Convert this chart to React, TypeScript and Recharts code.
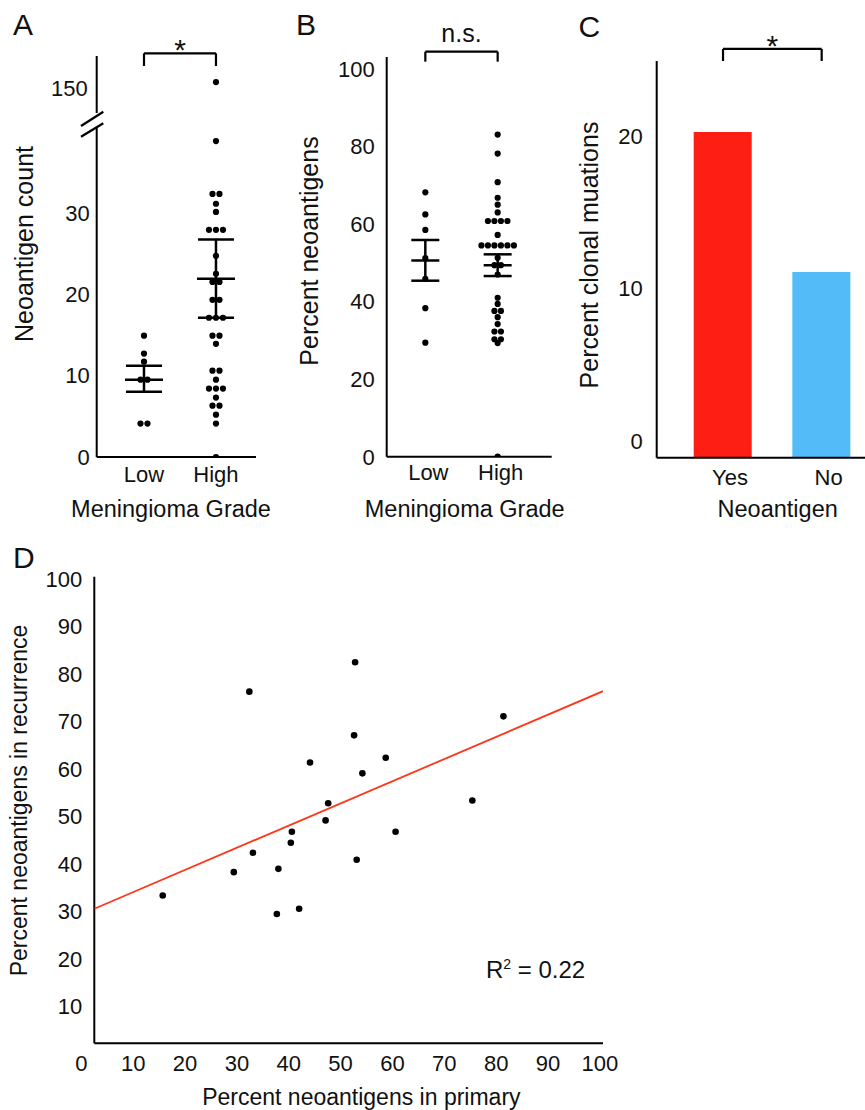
import React from 'react';
import {
  ScatterChart,
  Scatter,
  XAxis,
  YAxis,
  ErrorBar,
  ReferenceLine,
  BarChart,
  Bar,
  Cell,
} from 'recharts';

// ---------------- data ----------------
const gradeCategories = ['Low', 'High'];

// Panel A: neoantigen count per tumour
const neoantigenCountLow = [14.9, 12.7, 11.7, 9.5, 9.5, 4.1, 4.1];
const neoantigenCountHigh = [
  0, 4.1, 5.2, 6.3, 6.3, 7.3, 8.4, 8.4, 8.4, 9.5, 10.6, 10.6, 13.9, 14.9, 14.9,
  17.1, 17.1, 17.1, 19.3, 19.3, 21.5, 21.5, 22.5, 24.7, 27.9, 27.9, 27.9, 30.1,
  31.1, 32.3, 32.3, 38.8, 150.8,
];
const neoantigenCountMean = [9.5, 21.9];
const neoantigenCountSemLower = [8.0, 17.1];
const neoantigenCountSemUpper = [11.2, 26.7];
const countTicksLower = [0, 10, 20, 30];
const countTicksUpper = [150];
const countSignificance = '*';

// Panel B: percent neoantigens
const pctNeoLow = [68.2, 62.5, 58.5, 51.2, 45.9, 38.3, 29.4];
const pctNeoHigh = [
  83.1, 78.2, 70.8, 66.8, 65.0, 63.0, 60.8, 60.8, 60.8, 60.8, 57.2, 54.5, 54.5,
  54.5, 54.5, 54.5, 54.5, 51.3, 49.4, 49.4, 47.0, 41.0, 39.4, 37.6, 37.6, 36.0,
  34.2, 32.3, 32.3, 30.3, 30.3, 29.3, 0,
];
const pctNeoMean = [50.6, 49.4];
const pctNeoSemLower = [45.4, 46.6];
const pctNeoSemUpper = [55.9, 52.2];
const pctTicks = [0, 20, 40, 60, 80, 100];
const pctSignificance = 'n.s.';

// Panel C: percent clonal mutations
const neoantigenCategories = ['Yes', 'No'];
const clonalPct = [20.25, 11.07];
const clonalColors = ['#fe1f14', '#53bbf7'];
const clonalTicks = [0, 10, 20];
const clonalSignificance = '*';

// Panel D: primary vs recurrence
const primaryPct = [
  15.7, 29.4, 33.1, 32.4, 38.0, 37.7, 40.4, 40.6, 42.0, 44.1, 47.1, 47.6, 52.6,
  52.8, 53.1, 54.2, 58.7, 60.6, 75.4, 81.4,
];
const recurrencePct = [
  33.4, 38.3, 42.4, 76.3, 39.0, 29.5, 44.5, 46.8, 30.6, 61.4, 49.2, 52.8, 67.1,
  82.5, 40.9, 59.1, 62.4, 46.8, 53.4, 71.1,
];
const fitX = [2.5, 100.6];
const fitY = [30.6, 76.4];
const rSquared = '0.22';
const dXTicks = [0, 10, 20, 30, 40, 50, 60, 70, 80, 90, 100];
const dYTicks = [10, 20, 30, 40, 50, 60, 70, 80, 90, 100];

// ---------------- helpers ----------------
const INK = '#111';
const AXIS = { stroke: '#000', strokeWidth: 2 };
const TICK = { fill: INK, fontSize: 22 };

// symmetric rows for equal values (beeswarm-like layout)
function swarm(values: number[], group: number) {
  const counts = new Map<number, number>();
  values.forEach((v) => counts.set(v, (counts.get(v) || 0) + 1));
  const seen = new Map<number, number>();
  return values.map((v) => {
    const n = counts.get(v) || 1;
    const i = seen.get(v) || 0;
    seen.set(v, i + 1);
    return { x: group, y: v, slot: i - (n - 1) / 2 };
  });
}

const makeDot = (gap: number, r: number) => (p: any) => {
  const slot = (p.payload && p.payload.slot) || 0;
  return <circle cx={p.cx + slot * gap} cy={p.cy} r={r} fill="#000" />;
};

const makeMean = (half: number) => (p: any) => (
  <line x1={p.cx - half} x2={p.cx + half} y1={p.cy} y2={p.cy} stroke="#000" strokeWidth={2.5} />
);

const summary = (mean: number[], lo: number[], hi: number[]) =>
  mean.map((m, i) => ({ x: i + 1, y: m, err: [m - lo[i], hi[i] - m] }));

const bracket = (
  x1: any,
  x2: any,
  yTop: number,
  yFoot: number,
  text: string,
  fontSize: number,
  offset: number
) => [
  <ReferenceLine
    key="bl"
    segment={[{ x: x1, y: yFoot }, { x: x1, y: yTop }]}
    stroke="#000"
    strokeWidth={2.2}
    ifOverflow="visible"
  />,
  <ReferenceLine
    key="bt"
    segment={[{ x: x1, y: yTop }, { x: x2, y: yTop }]}
    stroke="#000"
    strokeWidth={2.2}
    ifOverflow="visible"
    label={{ value: text, position: 'top', offset, fontSize, fill: INK }}
  />,
  <ReferenceLine
    key="br"
    segment={[{ x: x2, y: yTop }, { x: x2, y: yFoot }]}
    stroke="#000"
    strokeWidth={2.2}
    ifOverflow="visible"
  />,
];

const gradeFormatter = (v: number) => gradeCategories[v - 1] || '';

// ---------------- derived tables ----------------
const countPoints = [...swarm(neoantigenCountLow, 1), ...swarm(neoantigenCountHigh, 2)];
const COUNT_LOWER_MAX = 40.4;
const COUNT_UPPER_MIN = 147;
const COUNT_UPPER_MAX = 154;
const countLowerPoints = countPoints.filter((d) => d.y <= COUNT_LOWER_MAX);
const countUpperPoints = countPoints.filter((d) => d.y >= COUNT_UPPER_MIN);
const countSummary = summary(neoantigenCountMean, neoantigenCountSemLower, neoantigenCountSemUpper);
const GRADE_X_DOMAIN_A: [number, number] = [0.343, 2.556];

const pctPoints = [...swarm(pctNeoLow, 1), ...swarm(pctNeoHigh, 2)];
const pctSummary = summary(pctNeoMean, pctNeoSemLower, pctNeoSemUpper);
const GRADE_X_DOMAIN_B: [number, number] = [0.466, 2.747];
const PCT_MAX = 103.1;

const clonalData = neoantigenCategories.map((c, i) => ({ name: c, value: clonalPct[i] }));
const CLONAL_MIN = -1.1;
const CLONAL_MAX = 24.9;

const dPoints = primaryPct.map((x, i) => ({ x, y: recurrencePct[i] }));
const fitData = fitX.map((x, i) => ({ x, y: fitY[i] }));
const D_X_DOMAIN: [number, number] = [2.5, 100.6];
const D_Y_DOMAIN: [number, number] = [2.27, 100.5];

const abs = (left: number, top: number): React.CSSProperties => ({
  position: 'absolute',
  left,
  top,
});

export default function App() {
  return (
    <div
      style={{
        position: 'absolute',
        left: 0,
        top: 0,
        width: 865,
        height: 1110,
        overflow: 'hidden',
        background: '#fff',
        fontFamily: '"Liberation Sans", Arial, Helvetica, sans-serif',
      }}
    >
      {/* Panel A upper (broken axis part) */}
      <div style={abs(0, 0)}>
        <ScatterChart width={270} height={114} margin={{ top: 56, right: 14, bottom: 1, left: 0 }}>
          <XAxis type="number" dataKey="x" domain={GRADE_X_DOMAIN_A} hide allowDataOverflow />
          <YAxis
            type="number"
            dataKey="y"
            domain={[COUNT_UPPER_MIN, COUNT_UPPER_MAX]}
            ticks={countTicksUpper}
            interval={0}
            width={96.7}
            tickLine={false}
            axisLine={AXIS}
            tick={TICK}
            tickMargin={3}
            allowDataOverflow
          />
          <Scatter data={countUpperPoints} shape={makeDot(7, 3.1)} isAnimationActive={false} />
          {bracket(1, 2, 154.33, 152.77, countSignificance, 30, -7)}
        </ScatterChart>
      </div>

      {/* Panel A lower */}
      <div style={abs(0, 0)}>
        <ScatterChart width={270} height={500} margin={{ top: 128, right: 14, bottom: 20, left: 0 }}>
          <XAxis
            type="number"
            dataKey="x"
            domain={GRADE_X_DOMAIN_A}
            ticks={[1, 2]}
            interval={0}
            tickFormatter={gradeFormatter}
            height={23}
            tickLine={false}
            axisLine={AXIS}
            tick={TICK}
            tickMargin={3}
            allowDataOverflow
          />
          <YAxis
            type="number"
            dataKey="y"
            domain={[0, COUNT_LOWER_MAX]}
            ticks={countTicksLower}
            interval={0}
            width={96.7}
            tickLine={false}
            axisLine={AXIS}
            tick={TICK}
            tickMargin={1}
            allowDataOverflow
          />
          <Scatter data={countLowerPoints} shape={makeDot(7, 3.1)} isAnimationActive={false} />
          <Scatter data={countSummary} shape={makeMean(19)} isAnimationActive={false}>
            <ErrorBar dataKey="err" direction="y" width={18} stroke="#000" strokeWidth={2.5} isAnimationActive={false} />
          </Scatter>
        </ScatterChart>
      </div>

      {/* Panel B */}
      <div style={abs(290, 0)}>
        <ScatterChart width={280} height={500} margin={{ top: 57, right: 18.3, bottom: 20, left: 0 }}>
          <XAxis
            type="number"
            dataKey="x"
            domain={GRADE_X_DOMAIN_B}
            ticks={[1, 2]}
            interval={0}
            tickFormatter={gradeFormatter}
            height={23.3}
            tickLine={false}
            axisLine={AXIS}
            tick={{ ...TICK, dx: 3 }}
            tickMargin={2}
            allowDataOverflow
          />
          <YAxis
            type="number"
            dataKey="y"
            domain={[0, PCT_MAX]}
            ticks={pctTicks}
            interval={0}
            width={96.7}
            tickLine={false}
            axisLine={AXIS}
            tick={TICK}
            tickMargin={6}
            allowDataOverflow
          />
          <Scatter data={pctPoints} shape={makeDot(6.5, 3.1)} isAnimationActive={false} />
          <Scatter data={pctSummary} shape={makeMean(14)} isAnimationActive={false}>
            <ErrorBar dataKey="err" direction="y" width={14} stroke="#000" strokeWidth={2.5} isAnimationActive={false} />
          </Scatter>
          {bracket(1, 2, 104.47, 101.9, pctSignificance, 25, 10)}
        </ScatterChart>
      </div>

      {/* Panel C */}
      <div style={abs(570, 0)}>
        <BarChart
          width={302}
          height={500}
          data={clonalData}
          margin={{ top: 61, right: 0, bottom: 12.3, left: 0 }}
        >
          <XAxis
            dataKey="name"
            type="category"
            padding={{ left: 17, right: 1 }}
            height={30}
            tickLine={false}
            axisLine={AXIS}
            tick={{ ...TICK, dx: 7 }}
            tickMargin={6}
          />
          <YAxis
            type="number"
            domain={[CLONAL_MIN, CLONAL_MAX]}
            ticks={clonalTicks}
            interval={0}
            width={86.7}
            tickLine={false}
            axisLine={AXIS}
            tick={TICK}
            tickMargin={8}
            allowDataOverflow
          />
          <Bar dataKey={(d: any) => [CLONAL_MIN, d.value]} barSize={58} isAnimationActive={false}>
            {clonalData.map((d, i) => (
              <Cell key={d.name} fill={clonalColors[i]} />
            ))}
          </Bar>
          {bracket('Yes', 'No', 25.69, 24.9, clonalSignificance, 30, -7)}
        </BarChart>
      </div>

      {/* Panel D */}
      <div style={abs(0, 540)}>
        <ScatterChart width={620} height={570} margin={{ top: 36.7, right: 17, bottom: 36.7, left: 0 }}>
          <XAxis
            type="number"
            dataKey="x"
            domain={D_X_DOMAIN}
            ticks={dXTicks}
            interval={0}
            height={30}
            tickLine={false}
            axisLine={AXIS}
            tick={TICK}
            tickMargin={6}
            allowDataOverflow
          />
          <YAxis
            type="number"
            dataKey="y"
            domain={D_Y_DOMAIN}
            ticks={dYTicks}
            interval={0}
            width={94.3}
            tickLine={false}
            axisLine={AXIS}
            tick={TICK}
            tickMargin={6}
            allowDataOverflow
          />
          <Scatter
            data={fitData}
            line={{ stroke: '#ff3418', strokeWidth: 1.8 }}
            shape={() => <g />}
            isAnimationActive={false}
          />
          <Scatter data={dPoints} shape={makeDot(0, 3.3)} isAnimationActive={false} />
        </ScatterChart>
      </div>

      {/* titles, panel letters, axis-break marks */}
      <svg
        width={865}
        height={1110}
        style={{ position: 'absolute', left: 0, top: 0, pointerEvents: 'none' }}
      >
        <g fill={INK}>
          <text x={13} y={34.5} fontSize={30}>A</text>
          <text x={296} y={35} fontSize={30}>B</text>
          <text x={578.5} y={37} fontSize={30}>C</text>
          <text x={13} y={568} fontSize={30}>D</text>

          <text transform="translate(33,244) rotate(-90)" textAnchor="middle" fontSize={25}>
            Neoantigen count
          </text>
          <text transform="translate(318,251) rotate(-90)" textAnchor="middle" fontSize={25}>
            Percent neoantigens
          </text>
          <text transform="translate(598,255) rotate(-90)" textAnchor="middle" fontSize={25}>
            Percent clonal muations
          </text>
          <text transform="translate(27,800.5) rotate(-90)" textAnchor="middle" fontSize={23}>
            Percent neoantigens in recurrence
          </text>

          <text x={171} y={516.5} textAnchor="middle" fontSize={23.5}>Meningioma Grade</text>
          <text x={464.7} y={516.5} textAnchor="middle" fontSize={23.5}>Meningioma Grade</text>
          <text x={777.7} y={516.5} textAnchor="middle" fontSize={23.5}>Neoantigen</text>
          <text x={361.4} y={1105} textAnchor="middle" fontSize={23}>
            Percent neoantigens in primary
          </text>

          <text x={486} y={978.3} fontSize={24}>
            R<tspan fontSize={14} dy={-9}>2</tspan>
            <tspan dy={9}> = {rSquared}</tspan>
          </text>
        </g>
        <g stroke="#000" strokeWidth={2.2}>
          <line x1={81} y1={126} x2={103.3} y2={111.7} />
          <line x1={81} y1={136.7} x2={103.3} y2={123.3} />
        </g>
      </svg>
    </div>
  );
}
